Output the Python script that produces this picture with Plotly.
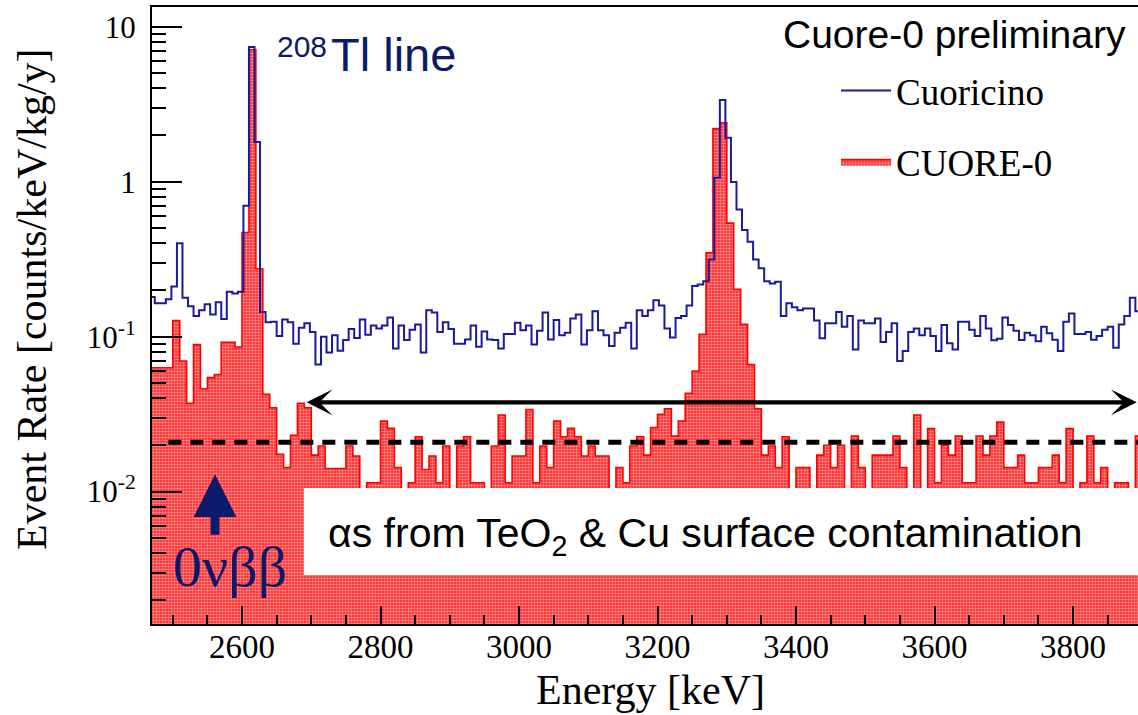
import numpy as np
import plotly.graph_objects as go

# ---------------- data ----------------
# Cuoricino: 8 keV bins, first lower edge 2466 keV
cuoricino_start = 2466
cuoricino_width = 8
cuoricino_rate = [
    0.18, 0.164, 0.164, 0.174, 0.211, 0.40, 0.178, 0.157, 0.136, 0.148,
    0.162, 0.139, 0.167, 0.130, 0.195, 0.19, 0.195, 0.70, 7.4, 1.8,
    0.144, 0.124, 0.125, 0.101, 0.129, 0.124, 0.090, 0.114, 0.122, 0.107,
    0.066, 0.100, 0.079, 0.102, 0.081, 0.095, 0.112, 0.098, 0.129, 0.103,
    0.118, 0.113, 0.118, 0.133, 0.084, 0.118, 0.095, 0.111, 0.120, 0.079,
    0.148, 0.143, 0.107, 0.124, 0.112, 0.090, 0.090, 0.096, 0.118, 0.086,
    0.108, 0.096, 0.095, 0.084, 0.104, 0.104, 0.123, 0.110, 0.118, 0.089,
    0.109, 0.143, 0.096, 0.128, 0.102, 0.106, 0.131, 0.139, 0.089, 0.110,
    0.146, 0.110, 0.102, 0.087, 0.106, 0.114, 0.123, 0.084, 0.148, 0.136,
    0.148, 0.172, 0.159, 0.113, 0.0986, 0.132, 0.136, 0.159, 0.212, 0.217,
    0.228, 0.315, 1.06, 3.36, 1.92, 0.995, 0.662, 0.487, 0.41, 0.315,
    0.276, 0.228, 0.22, 0.226, 0.136, 0.164, 0.155, 0.148, 0.152, 0.152,
    0.127, 0.0975, 0.122, 0.122, 0.144, 0.116, 0.136, 0.0826, 0.127, 0.122,
    0.122, 0.131, 0.0923, 0.107, 0.122, 0.0696, 0.0807, 0.107, 0.113, 0.102,
    0.113, 0.101, 0.0807, 0.119, 0.0906, 0.0826, 0.125, 0.125, 0.111, 0.101,
    0.136, 0.113, 0.0948, 0.097, 0.133, 0.119, 0.109, 0.095, 0.106, 0.102,
    0.0935, 0.116, 0.105, 0.0955, 0.0807, 0.125, 0.141, 0.104, 0.104, 0.107,
    0.0955, 0.101, 0.111, 0.116, 0.0849, 0.12, 0.136, 0.178, 0.146,
]

# CUORE-0: 10 keV bins, first lower edge 2470 keV
cuore0_start = 2470
cuore0_width = 10
cuore0_rate = [
    0.063, 0.063, 0.063, 0.127, 0.0696, 0.0371, 0.0888, 0.0461, 0.0544, 0.057,
    0.092, 0.092, 0.0857, 0.47, 7.1, 0.274, 0.0424, 0.0348, 0.0174, 0.0143,
    0.0231, 0.0371, 0.0348, 0.0172, 0.0197, 0.0141, 0.0141, 0.0141, 0.0197, 0.0170,
    0.0056, 0.0114, 0.0114, 0.0285, 0.0256, 0.0143, 0.0056, 0.0114, 0.0226, 0.0139,
    0.0170, 0.0114, 0.0197, 0.0056, 0.0197, 0.0226, 0.0114, 0.0114, 0.0056, 0.0197,
    0.0312, 0.0114, 0.0170, 0.0170, 0.0339, 0.0114, 0.0197, 0.0143, 0.0285, 0.0226,
    0.0256, 0.0226, 0.0170, 0.0197, 0.0170, 0.0170, 0.0056, 0.0143, 0.0114, 0.0197,
    0.0226, 0.0172, 0.0259, 0.0315, 0.0343, 0.0228, 0.0285, 0.0431, 0.060, 0.1035,
    0.348, 2.2, 2.4, 0.54, 0.202, 0.12, 0.066, 0.0343, 0.0172, 0.0197,
    0.0143, 0.0226, 0.0056, 0.0143, 0.0143, 0.0056, 0.0172, 0.0199, 0.0143, 0.0199,
    0.0056, 0.0228, 0.0143, 0.0056, 0.0172, 0.0172, 0.0172, 0.0228, 0.0143, 0.0056,
    0.0312, 0.0056, 0.0255, 0.0114, 0.0199, 0.0172, 0.0228, 0.0114, 0.0114, 0.0228,
    0.0172, 0.0228, 0.0281, 0.0143, 0.0143, 0.0172, 0.0114, 0.0114, 0.0143, 0.0143,
    0.0172, 0.0114, 0.0255, 0.0056, 0.0114, 0.0228, 0.0114, 0.0143, 0.0056, 0.0114,
    0.0114, 0.0056, 0.0228,
]

x_range = [2470, 3893.8]
y_log_range = [-2.854, 1.127]
x_major = [2600, 2800, 3000, 3200, 3400, 3600, 3800]
y_major = [0.01, 0.1, 1, 10]
y_major_text = ["10<sup>-2</sup>", "10<sup>-1</sup>", "1", "10"]

bkg_level = 0.0208          # dashed flat-background line
bkg_line_start = 2493.6
alpha_arrow_level = 0.0377  # double arrow: alpha region
alpha_arrow_from = 2691
alpha_arrow_to = 3892
qbb_energy = 2561           # 0vbb marker
qbb_arrow_tip = 0.01293
qbb_arrow_tail = 0.00515
box_x0 = 2689.5             # white label box

assert len(cuoricino_rate) == 179
assert len(cuore0_rate) == 143

def steps(start, width, vals):
    edges = start + width * np.arange(len(vals) + 1)
    ys = list(vals) + [vals[-1]]
    return edges, ys

bx, by = steps(cuoricino_start, cuoricino_width, cuoricino_rate)
rx, ry = steps(cuore0_start, cuore0_width, cuore0_rate)

NAVY = "#0c1a6b"
BLUE = "#1a1a9a"
RED = "#ff0000"
SERIF = "Liberation Serif"
SANS = "Liberation Sans"

fig = go.Figure()

# baseline for the filled histogram (below the visible range)
fig.add_trace(go.Scatter(x=[rx[0], rx[-1]], y=[1e-4, 1e-4], mode="lines",
                         line=dict(width=0, color="rgba(0,0,0,0)"),
                         showlegend=False, hoverinfo="skip"))
fig.add_trace(go.Scatter(
    x=rx, y=ry, mode="lines", line=dict(shape="hv", color=RED, width=1.6),
    fill="tonexty", fillcolor="rgba(255,0,0,0)",
    fillpattern=dict(shape=".", bgcolor="#ff1414", fgcolor="#ffffff",
                     size=3, solidity=0.6),
    name="CUORE-0", legendrank=2, legendgroup="c0", hoverinfo="skip"))
fig.add_trace(go.Scatter(
    x=bx, y=by, mode="lines", line=dict(shape="hv", color=BLUE, width=2),
    name="Cuoricino", legendrank=1, legendgroup="cc", hoverinfo="skip"))
fig.add_trace(go.Scatter(
    x=[bkg_line_start, x_range[1] + 10], y=[bkg_level, bkg_level], mode="lines",
    line=dict(color="black", width=5, dash="13px,9px"),
    showlegend=False, hoverinfo="skip"))

# white box behind the alpha label
fig.add_shape(type="rect", xref="x", yref="paper", x0=box_x0, x1=x_range[1] + 20,
              y0=(624 - 575) / 617, y1=(624 - 488) / 617,
              fillcolor="white", line=dict(width=0), layer="above")

def px(x):
    return (x - 152) / 986

def py(y):
    return (624 - y) / 617

def label(x, y, text, family, size, color="black", **kw):
    d = dict(x=px(x), y=py(y), xref="paper", yref="paper", text=text,
             showarrow=False, xanchor="center", yanchor="middle",
             font=dict(family=family, size=size, color=color))
    d.update(kw)
    return d

ann = []
# double headed arrow
ann.append(dict(x=alpha_arrow_to, y=np.log10(alpha_arrow_level), xref="x", yref="y",
                ax=alpha_arrow_from, ay=np.log10(alpha_arrow_level), axref="x", ayref="y",
                text="", showarrow=True, arrowhead=3, arrowside="end+start",
                arrowwidth=4.3, arrowsize=1.0, arrowcolor="black"))
# 0vbb arrow
ann.append(dict(x=qbb_energy, y=np.log10(qbb_arrow_tip), xref="x", yref="y",
                ax=qbb_energy, ay=np.log10(qbb_arrow_tail), axref="x", ayref="y",
                text="", showarrow=True, arrowhead=2, arrowwidth=9, arrowsize=0.95,
                arrowcolor=NAVY))
ann.append(label(230, 566, "0νββ", SERIF, 58, NAVY))
ann.append(label(705, 536, "αs from TeO<sub>2</sub> & Cu surface contamination", SANS, 41))
ann.append(label(302, 46, "208", SANS, 30, NAVY))
ann.append(label(329, 55, "Tl line", SANS, 47, NAVY, xanchor="left"))
ann.append(label(954, 34, "Cuore-0 preliminary", SANS, 39))
ann.append(label(650, 690, "Energy [keV]", SERIF, 42))
ann.append(label(32, 299, "Event Rate [counts/keV/kg/y]", SERIF, 42, textangle=-90))

y_minor = [m * 10.0 ** e for e in range(-3, 2) for m in range(2, 10)]

fig.update_layout(
    width=1138, height=715,
    margin=dict(l=152, r=0, t=7, b=91, pad=0),
    paper_bgcolor="white", plot_bgcolor="white",
    hovermode=False,
    annotations=ann,
    legend=dict(x=px(836), y=py(60), xanchor="left", yanchor="top",
                font=dict(family=SERIF, size=37, color="black"),
                bgcolor="rgba(0,0,0,0)", tracegroupgap=20, itemwidth=50,
                traceorder="grouped"),
    xaxis=dict(range=x_range, tickvals=x_major, ticks="inside", ticklen=18, tickwidth=2,
               tickcolor="black", showline=True, linewidth=2, linecolor="black",
               mirror=True, showgrid=False, zeroline=False, ticklabelstandoff=-8,
               tickfont=dict(family=SERIF, size=33, color="black"),
               minor=dict(dtick=50, tick0=2600, ticks="inside", ticklen=9, tickwidth=2,
                          tickcolor="black", showgrid=False)),
    yaxis=dict(type="log", range=y_log_range, tickvals=y_major, ticktext=y_major_text,
               ticks="inside", ticklen=30, tickwidth=2, tickcolor="black",
               showline=True, linewidth=2, linecolor="black", showgrid=False,
               zeroline=False, ticklabelstandoff=8,
               tickfont=dict(family=SERIF, size=31, color="black"),
               minor=dict(tickvals=y_minor, ticks="inside", ticklen=14, tickwidth=2,
                          tickcolor="black", showgrid=False)),
)

fig.write_html("out.html")
